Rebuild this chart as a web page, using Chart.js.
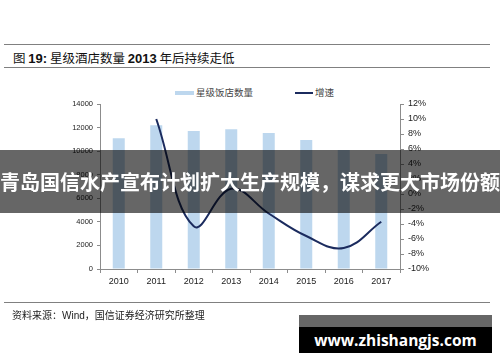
<!DOCTYPE html>
<html>
<head>
<meta charset="utf-8">
<script src="https://cdn.jsdelivr.net/npm/chart.js@4.4.1/dist/chart.umd.min.js"></script>
<style>
  body { margin:0; width:500px; height:362px; background:#fff; position:relative; overflow:hidden;
         font-family:"Noto Sans CJK SC", sans-serif; }
  #wrap { position:absolute; left:0; top:0; width:500px; height:362px; }
  .rule { position:absolute; left:4px; width:486px; height:1px; background:#808080; }
  #title { position:absolute; left:13px; top:48px; font-size:12.5px; color:#111; white-space:nowrap; }
  #title b { font-family:"Liberation Sans", Arial, sans-serif; font-size:13px; }
  #legend { position:absolute; top:85px; left:175px; font-size:9.5px; color:#444; white-space:nowrap; }
  #legend span.item { position:absolute; top:0; }
  #legend i { display:inline-block; vertical-align:middle; margin-right:2px; }
  #source { position:absolute; left:12px; top:307px; font-size:10px; color:#222; white-space:nowrap; }
  #source .lat { font-family:"Liberation Sans", Arial, sans-serif; }
  #banner { position:absolute; left:0; top:150px; width:500px; height:63px; background:rgba(0,0,0,0.6);
            color:#fff; font-weight:bold; font-size:20px; line-height:63px; text-align:center; white-space:nowrap; z-index:5; }
  #mark { position:absolute; left:299px; top:315px; width:193px; height:38px; background:#000; z-index:5; }
  #mark .top { position:absolute; left:0; top:0; width:193px; height:12px; background:#666; }
  #mark .txt { position:absolute; left:0; top:12px; width:193px; height:26px; line-height:26px; text-align:center;
               color:#fff; font-weight:bold; font-size:15.5px; font-family:"Open Sans", sans-serif; }
</style>
</head>
<body>
<div class="rule" style="top:44px"></div>
<div id="title">图 <b>19:</b> 星级酒店数量 <b>2013</b> 年后持续走低</div>
<div class="rule" style="top:67px"></div>
<div id="legend"></div>
<div id="wrap"><canvas id="chart" width="500" height="362"></canvas></div>
<div class="rule" style="top:302px"></div>
<div id="source">资料来源：<span class="lat">Wind</span>，国信证券经济研究所整理</div>
<div id="banner">青岛国信水产宣布计划扩大生产规模，谋求更大市场份额</div>
<div id="mark"><div class="top"></div><div class="txt">www.zhishangjs.com</div></div>

<script>
var years = ["2010", "2011", "2012", "2013", "2014", "2015", "2016", "2017"];
var hotelCount = [11100, 12200, 11700, 11850, 11550, 10950, 10100, 9750];
var growthRate = [null, 10.0, -4.3, 0.7, -2.6, -5.6, -7.2, -3.7];
var barLabel = "星级饭店数量";
var lineLabel = "增速";

var barColor = "#BDD7EE";
var lineColor = "#1B2B5E";
var axisColor = "#8c8c8c";

// html legend
var legend = document.getElementById("legend");
legend.innerHTML =
  '<span class="item" style="left:0"><i style="width:19px;height:4px;background:' + barColor + '"></i>' + barLabel + '</span>' +
  '<span class="item" style="left:120px"><i style="width:18px;height:2px;background:' + lineColor + '"></i>' + lineLabel + '</span>';

var tickFont = { family: "Liberation Sans, Arial, sans-serif", size: 9 };

new Chart(document.getElementById("chart"), {
  data: {
    labels: years,
    datasets: [
      {
        type: "line",
        label: lineLabel,
        data: growthRate,
        yAxisID: "y1",
        borderColor: lineColor,
        borderWidth: 2,
        pointRadius: 0,
        tension: 0.4,
        fill: false,
        order: 0
      },
      {
        type: "bar",
        label: barLabel,
        data: hotelCount,
        yAxisID: "y",
        backgroundColor: barColor,
        barPercentage: 0.32,
        categoryPercentage: 1.0,
        order: 1
      }
    ]
  },
  options: {
    responsive: false,
    animation: false,
    layout: { padding: { top: 104, left: 0, right: 0, bottom: 0 } },
    plugins: { legend: { display: false }, tooltip: { enabled: false } },
    scales: {
      x: {
        offset: true,
        grid: { offset: true, drawOnChartArea: false, tickLength: 4, color: axisColor },
        border: { color: axisColor },
        ticks: { font: tickFont, color: "#222", padding: 3 },
        afterFit: function (s) { s.height = 93; }
      },
      y: {
        position: "left",
        min: 0, max: 14000,
        grid: { drawOnChartArea: false, tickLength: 3, color: axisColor },
        border: { color: axisColor },
        ticks: { stepSize: 2000, font: { family: "Liberation Sans, Arial, sans-serif", size: 7.5 }, color: "#222", padding: 4,
                 callback: function (v) { return String(v); } },
        afterFit: function (s) { s.width = 100; }
      },
      y1: {
        position: "right",
        min: -10, max: 12,
        grid: { drawOnChartArea: false, tickLength: 4, color: axisColor },
        border: { color: axisColor },
        ticks: { stepSize: 2, font: tickFont, color: "#222", padding: 4,
                 callback: function (v) { return v + "%"; } },
        afterFit: function (s) { s.width = 100; }
      }
    }
  }
});
</script>
</body>
</html>
